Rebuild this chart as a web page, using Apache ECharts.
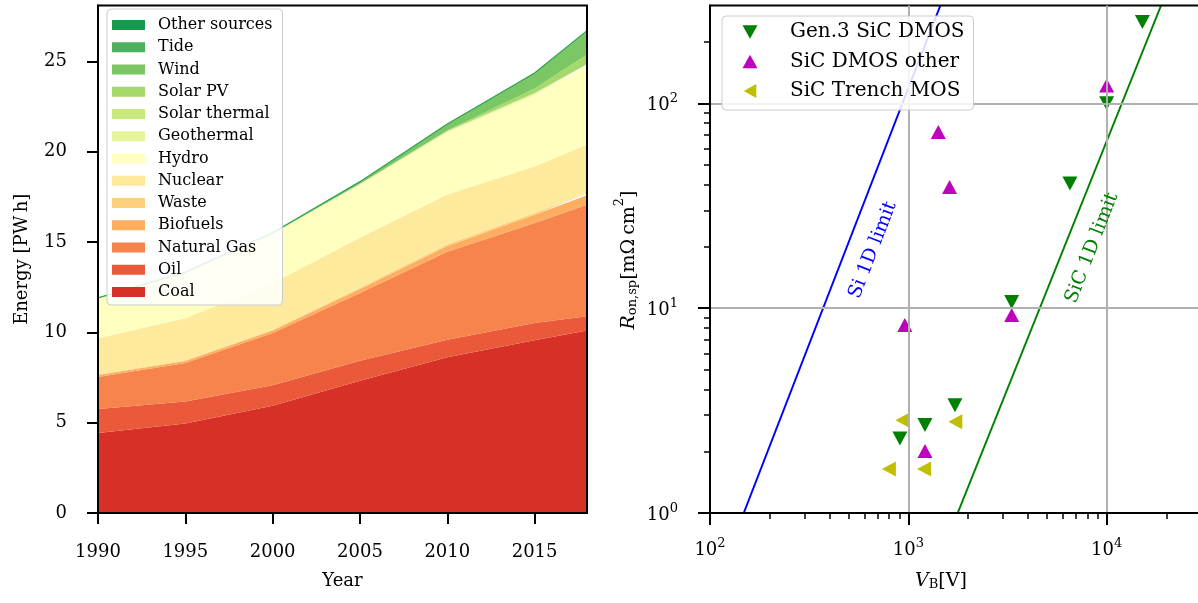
<!DOCTYPE html>
<html><head><meta charset="utf-8">
<script src="https://cdn.jsdelivr.net/npm/echarts@6/dist/echarts.min.js"></script>
<style>html,body{margin:0;padding:0;background:#fff}#c{width:1198px;height:603px}</style>
</head><body><div id="c"></div>
<script>
// ---------- Left panel data (PWh) ----------
const years = [1990, 1995, 2000, 2005, 2010, 2015, 2018];
const coal = [4.43, 4.95, 5.94, 7.32, 8.63, 9.56, 10.10];
const oil = [1.33, 1.23, 1.13, 1.11, 0.96, 0.96, 0.79];
const naturalGas = [1.77, 2.12, 2.89, 3.75, 4.88, 5.54, 6.18];
const biofuels = [0.11, 0.12, 0.14, 0.22, 0.31, 0.45, 0.52];
const waste = [0.03, 0.04, 0.05, 0.07, 0.10, 0.10, 0.11];
const nuclear = [2.01, 2.33, 2.59, 2.77, 2.76, 2.57, 2.71];
const hydro = [2.19, 2.49, 2.69, 2.93, 3.44, 3.98, 4.33];
const geothermal = [0.036, 0.040, 0.052, 0.058, 0.068, 0.080, 0.089];
const solarThermal = [0.0007, 0.0008, 0.0005, 0.0006, 0.0017, 0.0095, 0.012];
const solarPV = [0.0001, 0.0002, 0.001, 0.004, 0.032, 0.25, 0.55];
const wind = [0.004, 0.008, 0.031, 0.104, 0.342, 0.83, 1.27];
const tide = [0.0006, 0.0006, 0.0006, 0.0005, 0.0005, 0.001, 0.001];
const otherSources = [0.0, 0.005, 0.005, 0.01, 0.02, 0.03, 0.04];

const sourceNames = ['Coal', 'Oil', 'Natural Gas', 'Biofuels', 'Waste', 'Nuclear', 'Hydro',
  'Geothermal', 'Solar thermal', 'Solar PV', 'Wind', 'Tide', 'Other sources'];
const sourceValues = [coal, oil, naturalGas, biofuels, waste, nuclear, hydro,
  geothermal, solarThermal, solarPV, wind, tide, otherSources];
const sourceColors = ['#d73027', '#ea593a', '#f7834d', '#fdae61', '#fecf7d', '#feea9c', '#ffffbf',
  '#e6f49c', '#c8e880', '#a6d96a', '#7bc665', '#4db15d', '#1a9850'];

const yearTicks = [1990, 1995, 2000, 2005, 2010, 2015];
const energyTicks = [0, 5, 10, 15, 20, 25];

// ---------- Right panel data ----------
const gen3SiCDMOS = [[15140, 249], [10000, 100], [6530, 40.6], [3320, 10.7], [1718, 3.36], [1213, 2.69], [907, 2.31]];
const sicDMOSOther = [[10000, 122], [1416, 72.4], [1614, 39], [960, 8.27], [3320, 9.25], [1213, 2.01]];
const sicTrenchMOS = [[933, 2.84], [1725, 2.79], [798, 1.64], [1200, 1.64]];
const siLimit = [[148, 1], [1450, 300]];
const sicLimit = [[1774, 1], [18800, 300]];

const vbTicks = [100, 1000, 10000, 100000];
const vbMinorTicks = [200, 300, 400, 500, 600, 700, 800, 900, 2000, 3000, 4000, 5000, 6000, 7000, 8000, 9000,
  20000, 30000, 40000, 50000, 60000, 70000, 80000, 90000];
const ronTicks = [1, 10, 100];
const ronMinorTicks = [2, 3, 4, 5, 6, 7, 8, 9, 20, 30, 40, 50, 60, 70, 80, 90, 200];

const SERIF = 'DejaVu Serif';
const BLACK = '#000';

const chart = echarts.init(document.getElementById('c'), null, {renderer: 'canvas'});

// value first, year second: the stack applies to the first numeric dimension (energy)
const areaSeries = sourceNames.map((n, i) => ({
  name: n, type: 'line', xAxisIndex: 0, yAxisIndex: 0, stack: 'energy',
  data: years.map((y, j) => [sourceValues[i][j], y]),
  encode: {x: 1, y: 0},
  symbol: 'none', silent: true,
  itemStyle: {color: sourceColors[i]},
  lineStyle: i === sourceNames.length - 1 ? {width: 1.2, color: '#2ea352'} : {width: 0, color: sourceColors[i]},
  areaStyle: {color: sourceColors[i], opacity: 1}
}));

const powLabel = v => '{b|10}{s|' + Math.round(Math.log10(v)) + '}';
const powRich = {
  b: {fontFamily: SERIF, fontSize: 18, color: BLACK, lineHeight: 22, verticalAlign: 'bottom'},
  s: {fontFamily: SERIF, fontSize: 13, color: BLACK, lineHeight: 13, verticalAlign: 'top'}
};
const DOWN = 'path://M0,0L2,0L1,1.8Z';
const UP = 'path://M1,0L2,1.8L0,1.8Z';
const LEFT = 'path://M1.8,0L1.8,2L0,1Z';

const option = {
  animation: false,
  backgroundColor: '#fff',
  grid: [
    {left: 98, top: 5.5, width: 489, height: 507.5, show: true, borderColor: BLACK, borderWidth: 2, backgroundColor: 'rgba(0,0,0,0)', z: 10, outerBoundsMode: 'none', containLabel: false},
    {left: 710, top: 5.5, width: 595, height: 507.5, show: true, borderColor: BLACK, borderWidth: 2, backgroundColor: 'rgba(0,0,0,0)', z: 10, outerBoundsMode: 'none', containLabel: false}
  ],
  legend: [
    {
      data: sourceNames.slice().reverse(),
      orient: 'vertical', left: 107, top: 9,
      icon: 'rect', itemWidth: 33, itemHeight: 10, itemGap: 6.25,
      padding: [8, 10, 5, 5],
      backgroundColor: 'rgba(255,255,255,0.85)', borderColor: '#cccccc', borderWidth: 1, borderRadius: 4,
      textStyle: {fontFamily: SERIF, fontSize: 16, color: BLACK, lineHeight: 16, padding: [0, 0, 0, 8]},
      selectedMode: false, z: 20
    },
    {
      data: [{name: 'Gen.3 SiC DMOS', icon: DOWN}, {name: 'SiC DMOS other', icon: UP}, {name: 'SiC Trench MOS', icon: LEFT}],
      orient: 'vertical', left: 722, top: 16,
      itemWidth: 15, itemHeight: 14, itemGap: 9.5,
      padding: [6, 9, 9, 20.5],
      backgroundColor: 'rgba(255,255,255,0.85)', borderColor: '#cccccc', borderWidth: 1, borderRadius: 4,
      textStyle: {fontFamily: SERIF, fontSize: 20, color: BLACK, lineHeight: 20, padding: [0, 0, 0, 27.5]},
      selectedMode: false, z: 20
    }
  ],
  xAxis: [
    {
      gridIndex: 0, type: 'value', min: 1990, max: 2018, z: 10,
      axisLine: {onZero: false, lineStyle: {color: BLACK, width: 2}},
      axisTick: {customValues: yearTicks, length: 11, lineStyle: {color: BLACK, width: 2}},
      axisLabel: {customValues: yearTicks, formatter: v => String(v), fontFamily: SERIF, fontSize: 18, color: BLACK, margin: 30},
      splitLine: {show: false},
      name: 'Year', nameLocation: 'middle', nameGap: 59,
      nameTextStyle: {fontFamily: SERIF, fontSize: 18, color: BLACK}
    },
    {
      gridIndex: 1, type: 'log', logBase: 10, min: 100, max: 100000, position: 'bottom', z: 10,
      axisLine: {onZero: false, lineStyle: {color: BLACK, width: 2}},
      axisTick: {customValues: vbTicks, length: 12, lineStyle: {color: BLACK, width: 2}},
      axisLabel: {customValues: vbTicks, formatter: powLabel, rich: powRich, margin: 24},
      splitLine: {show: true, lineStyle: {color: '#b0b0b0', width: 2}}
    },
    {
      gridIndex: 1, type: 'log', logBase: 10, min: 100, max: 100000, position: 'bottom', z: 10,
      axisLine: {show: false, onZero: false},
      axisTick: {customValues: vbMinorTicks, length: 6, lineStyle: {color: BLACK, width: 1.5}},
      axisLabel: {show: false},
      splitLine: {show: false}
    }
  ],
  yAxis: [
    {
      gridIndex: 0, type: 'value', min: 0, max: 28.1, z: 10,
      axisLine: {onZero: false, lineStyle: {color: BLACK, width: 2}},
      axisTick: {customValues: energyTicks, length: 11, lineStyle: {color: BLACK, width: 2}},
      axisLabel: {customValues: energyTicks, fontFamily: SERIF, fontSize: 18, color: BLACK, margin: 31},
      splitLine: {show: false},
      name: 'Energy [PW\u2009h]', nameLocation: 'middle', nameGap: 67, nameRotate: 90,
      nameTextStyle: {fontFamily: SERIF, fontSize: 18, color: BLACK}
    },
    {
      gridIndex: 1, type: 'log', logBase: 10, min: 1, max: 300, position: 'left', z: 10,
      axisLine: {onZero: false, lineStyle: {color: BLACK, width: 2}},
      axisTick: {customValues: ronTicks, length: 12, lineStyle: {color: BLACK, width: 2}},
      axisLabel: {customValues: ronTicks, formatter: powLabel, rich: powRich, margin: 32},
      splitLine: {show: true, lineStyle: {color: '#b0b0b0', width: 2}}
    },
    {
      gridIndex: 1, type: 'log', logBase: 10, min: 1, max: 300, position: 'left', z: 10,
      axisLine: {show: false, onZero: false},
      axisTick: {customValues: ronMinorTicks, length: 6, lineStyle: {color: BLACK, width: 1.5}},
      axisLabel: {show: false},
      splitLine: {show: false}
    }
  ],
  graphic: [
    {
      type: 'text', x: 626, y: 260, rotation: Math.PI / 2, z: 30,
      style: {
        text: '{i|R}{s|on,sp}{n|[m\u03A9\u2009cm}{p|2}{n|]}',
        align: 'center', verticalAlign: 'middle',
        rich: {
          i: {fontFamily: SERIF, fontStyle: 'italic', fontSize: 19, fill: BLACK, lineHeight: 26, verticalAlign: 'bottom'},
          n: {fontFamily: SERIF, fontSize: 19, fill: BLACK, lineHeight: 26, verticalAlign: 'bottom'},
          s: {fontFamily: SERIF, fontSize: 13, fill: BLACK, lineHeight: 13, verticalAlign: 'bottom'},
          p: {fontFamily: SERIF, fontSize: 13, fill: BLACK, lineHeight: 13, verticalAlign: 'top'}
        }
      }
    },
    {
      type: 'text', x: 941, y: 578, z: 30,
      style: {
        text: '{i|V}{s|B}{n|[V]}',
        align: 'center', verticalAlign: 'middle',
        rich: {
          i: {fontFamily: SERIF, fontStyle: 'italic', fontSize: 19, fill: BLACK, lineHeight: 26, verticalAlign: 'bottom'},
          n: {fontFamily: SERIF, fontSize: 19, fill: BLACK, lineHeight: 26, verticalAlign: 'bottom'},
          s: {fontFamily: SERIF, fontSize: 13, fill: BLACK, lineHeight: 13, verticalAlign: 'bottom'}
        }
      }
    },
    {
      type: 'text', x: 873, y: 250, rotation: 68.8 * Math.PI / 180, z: 30,
      style: {text: 'Si 1D limit', fontFamily: SERIF, fontSize: 19, fill: '#0000ff', align: 'center', verticalAlign: 'middle'}
    },
    {
      type: 'text', x: 1092, y: 248, rotation: 68.8 * Math.PI / 180, z: 30,
      style: {text: 'SiC 1D limit', fontFamily: SERIF, fontSize: 19, fill: '#008000', align: 'center', verticalAlign: 'middle'}
    }
  ],
  series: areaSeries.concat([
    {
      name: 'Si 1D limit', type: 'line', xAxisIndex: 1, yAxisIndex: 1, data: siLimit,
      symbol: 'none', silent: true, lineStyle: {color: '#0000ff', width: 2}, itemStyle: {color: '#0000ff'}
    },
    {
      name: 'SiC 1D limit', type: 'line', xAxisIndex: 1, yAxisIndex: 1, data: sicLimit,
      symbol: 'none', silent: true, lineStyle: {color: '#008000', width: 2}, itemStyle: {color: '#008000'}
    },
    {
      name: 'Gen.3 SiC DMOS', type: 'scatter', xAxisIndex: 1, yAxisIndex: 1, data: gen3SiCDMOS,
      symbol: DOWN, symbolSize: [15, 14], itemStyle: {color: '#008000', opacity: 1}
    },
    {
      name: 'SiC DMOS other', type: 'scatter', xAxisIndex: 1, yAxisIndex: 1, data: sicDMOSOther,
      symbol: UP, symbolSize: [15, 14], itemStyle: {color: '#bf00bf', opacity: 1}
    },
    {
      name: 'SiC Trench MOS', type: 'scatter', xAxisIndex: 1, yAxisIndex: 1, data: sicTrenchMOS,
      symbol: LEFT, symbolSize: [14, 15], itemStyle: {color: '#bfbf00', opacity: 1}
    }
  ])
};
chart.setOption(option);
</script>
</body></html>
